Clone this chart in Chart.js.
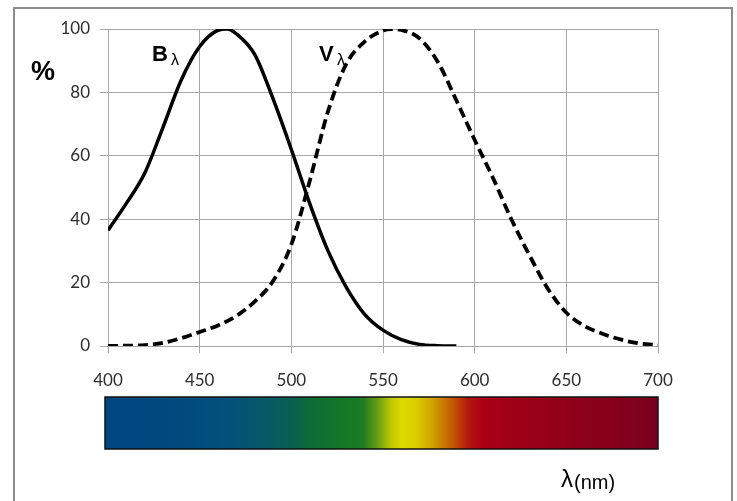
<!DOCTYPE html>
<html>
<head>
<meta charset="utf-8">
<script src="https://cdn.jsdelivr.net/npm/chart.js@4.4.1/dist/chart.umd.min.js"></script>
<style>
body { margin: 0; background: #fff; }
</style>
</head>
<body>
<canvas id="myChart"></canvas>
<script>
// Chart data

var Wavelength_B = [400, 410, 420, 430, 440, 450, 460, 465, 470, 480, 490, 500, 510, 520, 530, 540, 550, 560, 570, 580, 590];
var Data_B =       [36.5, 45, 54.5, 69, 84, 94.5, 99.6, 100, 98.5, 92, 78, 62, 45, 30, 18.5, 10, 5, 2, 0.5, 0.1, 0];

var Wavelength_V = [400, 410, 420, 430, 440, 450, 460, 470, 480, 490, 500, 510, 520, 530, 540, 550, 555, 560, 570, 580, 590, 600, 610, 620, 630, 640, 650, 660, 670, 680, 690, 700];
var Data_V =       [0, 0.1, 0.3, 1, 2.5, 4.4, 6.5, 9.5, 14, 20.5, 32, 52, 74, 89, 96, 99.5, 100, 99.7, 97, 89.5, 77.5, 65, 53, 40, 28.5, 18, 10.5, 6.3, 3.8, 2, 0.8, 0.3];

var X_Ticks = [400, 450, 500, 550, 600, 650, 700];
var Y_Ticks = [0, 20, 40, 60, 80, 100];

var Spectrum_nm =     [400, 440, 470, 490, 500, 512, 530, 540, 548, 555, 561, 568, 578, 588, 597, 605, 630, 670, 700];
var Spectrum_Colors = ["#00477f", "#004a7e", "#04527a", "#075a62", "#0a5f52", "#0e6c36", "#147826", "#1c7c22",
                       "#6a9e14", "#bcc800", "#dcd900", "#dccf00", "#d0a000", "#c45e00", "#b2180e", "#aa0016",
                       "#9a0018", "#88001a", "#7a0020"];

// Chart Initialization

var Ctxt = document.getElementById("myChart").getContext("2d");
Ctxt.canvas.width = 737;
Ctxt.canvas.height = 501;

var tickFont = { family: "Lato", size: 17 };
var gridColor = "#a8a8a8";

function points(xs, ys) {
	var out = [];
	for (var i = 0; i < xs.length; i++) {
		out.push({ x: xs[i], y: ys[i] });
		}
	return out;
	}

var extras = {
	id: "extras",
	beforeDraw: function(chart) {
		var ctx = chart.ctx;
		ctx.save();
		ctx.fillStyle = "#fff";
		ctx.fillRect(0, 0, chart.width, chart.height);
		ctx.strokeStyle = "#8c8c8c";
		ctx.lineWidth = 2;
		ctx.strokeRect(14, 8, 718, 530);
		ctx.restore();
		},
	afterDraw: function(chart) {
		var ctx = chart.ctx;
		var xs = chart.scales.x;
		var n0 = Spectrum_nm[0];
		var n1 = Spectrum_nm[Spectrum_nm.length - 1];
		var left = xs.getPixelForValue(n0) - 3;
		var right = xs.getPixelForValue(n1);
		var top = 397, bottom = 449;
		ctx.save();
		var grad = ctx.createLinearGradient(left, 0, right, 0);
		for (var i = 0; i < Spectrum_nm.length; i++) {
			grad.addColorStop((Spectrum_nm[i] - n0) / (n1 - n0), Spectrum_Colors[i]);
			}
		ctx.fillStyle = grad;
		ctx.fillRect(left, top, right - left, bottom - top);
		ctx.strokeStyle = "#111";
		ctx.lineWidth = 1.5;
		ctx.strokeRect(left, top, right - left, bottom - top);

		// labels
		ctx.fillStyle = "#000";
		ctx.textBaseline = "alphabetic";
		ctx.textAlign = "left";
		ctx.font = "bold 27px 'Liberation Sans'";
		ctx.fillText("%", 31, 80);
		ctx.font = "bold 22px 'Liberation Sans'";
		ctx.fillText("B", 152, 61);
		ctx.fillText("V", 319, 61);
		ctx.font = "16px 'Liberation Sans'";
		ctx.fillText("\u03bb", 171, 65);
		ctx.fillText("\u03bb", 337, 65);
		ctx.font = "24px 'Liberation Sans'";
		ctx.fillText("\u03bb", 561, 487);
		ctx.font = "20px 'Liberation Sans'";
		ctx.fillText("(nm)", 574, 489);
		ctx.restore();
		}
	};

var ChartInst = new Chart(Ctxt, {
	type: "line",
	data: {
		datasets: [{
			label: "B",
			data: points(Wavelength_B, Data_B),
			borderColor: "#000",
			borderWidth: 3.5,
			pointRadius: 0,
			fill: false,
			cubicInterpolationMode: "monotone"
			},
			{
			label: "V",
			data: points(Wavelength_V, Data_V),
			borderColor: "#000",
			borderWidth: 3.8,
			borderDash: [10, 5],
			pointRadius: 0,
			fill: false,
			cubicInterpolationMode: "monotone"
			}]
		},
	options: {
		responsive: false,
		animation: false,
		layout: { padding: { left: 0, right: 79, top: 29, bottom: 0 } },
		plugins: {
			legend: { display: false },
			tooltip: { enabled: false }
			},
		scales: {
			x: {
				type: "linear",
				min: 400,
				max: 700,
				afterBuildTicks: function(s) { s.ticks = X_Ticks.map(function(v) { return { value: v }; }); },
				afterFit: function(s) { s.height = 155; },
				grid: { color: gridColor, lineWidth: 1, tickLength: 7 },
				border: { color: gridColor, width: 1 },
				ticks: { font: tickFont, color: "#2e2e2e", padding: 17, maxRotation: 0 }
				},
			y: {
				type: "linear",
				min: 0,
				max: 100,
				afterBuildTicks: function(s) { s.ticks = Y_Ticks.map(function(v) { return { value: v }; }); },
				afterFit: function(s) { s.width = 108; },
				grid: { color: gridColor, lineWidth: 1, tickLength: 8 },
				border: { color: gridColor, width: 1 },
				ticks: { font: tickFont, color: "#2e2e2e", padding: 10 }
				}
			}
		},
	plugins: [extras]
	});
</script>
</body>
</html>
